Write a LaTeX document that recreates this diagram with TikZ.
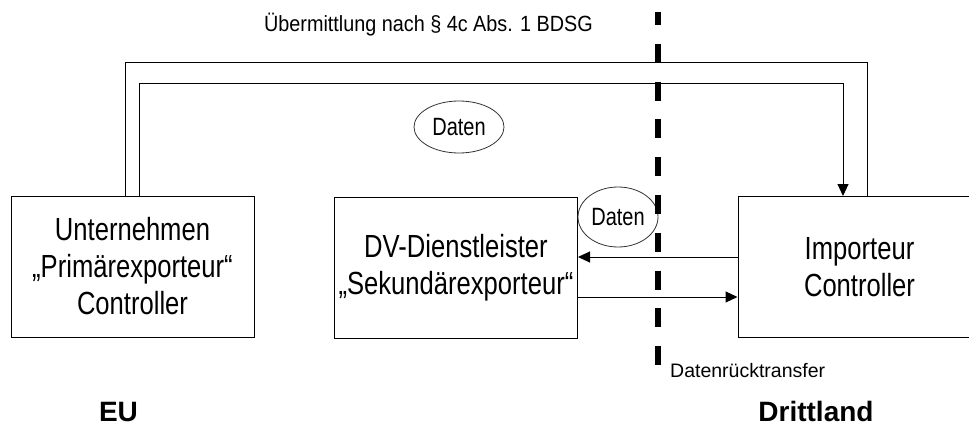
\documentclass[tikz,border=0pt]{standalone}
\usepackage{fontspec}
\setmainfont{Liberation Sans}[FakeStretch=0.8]
\newfontfamily\titlefont{Liberation Sans}[FakeStretch=0.9]
\newfontfamily\plainfont{Liberation Sans}
\newfontfamily\boldlabel{Liberation Sans Bold}
\usetikzlibrary{arrows.meta,shapes.geometric}
\begin{document}
\begin{tikzpicture}[x=1pt,y=-1pt,
  box/.style={draw=black,line width=1pt,minimum width=243pt,minimum height=141pt,inner sep=0pt,align=center,font=\fontsize{32}{37}\selectfont},
  datenell/.style={ellipse,draw=black!80,line width=0.8pt,inner sep=0pt,fill=white,font=\fontsize{25}{28}\selectfont},
  conn/.style={line width=1pt,black},
  arr/.style={conn,-{Triangle[length=12pt,width=11pt]}},
  region/.style={font=\boldlabel\fontsize{28}{32}\selectfont,anchor=base,inner sep=0pt}
]
\path[use as bounding box,clip] (0,0) rectangle (969,425);
\fill[white] (0,0) rectangle (969,425);

% boxes
\node[box] (b1) at (132.5,266.5) {Unternehmen\\„Primärexporteur“\\Controller};
\node[box] (b2) at (456,267.5) {DV-Dienstleister\\„Sekundärexporteur“};
\node[box] (b3) at (859.5,267) {Importeur\\Controller};

% top title
\node[anchor=base,inner sep=0pt,font=\titlefont\fontsize{22}{26}\selectfont] (title) at (428.5,32) {Übermittlung nach § 4c Abs. 1 BDSG};

% ellipses
\node[datenell,minimum width=90pt,minimum height=52pt] (d1) at (459,127) {Daten};
\node[datenell,minimum width=80pt,minimum height=60pt] (d2) at (618,217) {Daten};

% outer and inner transfer lines
\coordinate (o1) at (125,63);
\coordinate (o2) at (867,63);
\coordinate (i1) at (139,84);
\coordinate (i2) at (843,84);
\draw[conn] (b1.north -| o1) -- (o1) -- (o2) -- (b3.north -| o2);
\draw[arr] (b1.north -| i1) -- (i1) -- (i2) -- (b3.north -| i2);

% arrows between DV and Importeur
\draw[arr] (b3.west |- 0,257) -- (b2.east |- 0,257);
\draw[arr] (b2.east |- 0,297) -- (b3.west |- 0,297);

% border line
\coordinate (bt) at (658,12);
\coordinate (bb) at (658,381);
\draw[line width=6pt,black,dash pattern=on 19pt off 18.8pt,dash phase=6pt] (bt) -- (bb);

% labels
\node[anchor=base west,inner sep=0pt,font=\plainfont\fontsize{19.5}{22}\selectfont] (rt) at (670,377) {Datenrücktransfer};
\node[region] (eu) at (118.5,421) {EU};
\node[region] (dl) at (816,421) {Drittland};
\end{tikzpicture}
\end{document}
